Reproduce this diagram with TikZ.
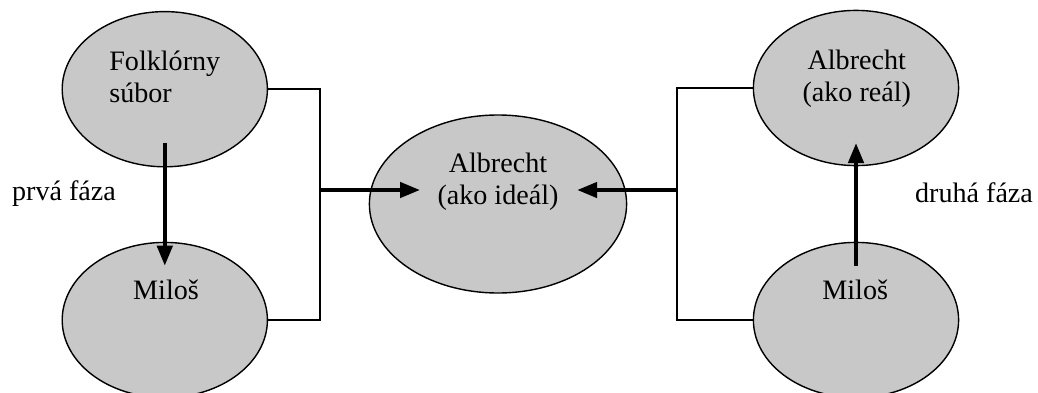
\documentclass[tikz,border=0pt]{standalone}
\usepackage{fontspec}
\setmainfont{Liberation Serif}
\usetikzlibrary{arrows.meta,shapes.geometric}
\definecolor{blobgray}{RGB}{200,200,200}

\begin{document}
\begin{tikzpicture}[
    blob/.style={ellipse, draw, line width=1pt, fill=blobgray, inner sep=0pt},
    fat/.style={line width=2.8pt, -{Triangle[length=0.5cm, width=0.38cm]}},
    txt/.style={font=\fontsize{20}{23}\selectfont, inner sep=0pt}
]
    \useasboundingbox (0,0) rectangle (25.95,9.8);

    % ellipses
    \node[blob, minimum width=5.13cm, minimum height=3.88cm] (folk) at (4.12,7.57) {};
    \node[blob, minimum width=5.13cm, minimum height=3.88cm] (milosL) at (4.12,1.8) {};
    \node[blob, minimum width=6.43cm, minimum height=4.45cm] (ideal) at (12.45,4.7) {};
    \node[blob, minimum width=5.13cm, minimum height=3.88cm] (real) at (21.4,7.6) {};
    \node[blob, minimum width=5.13cm, minimum height=3.88cm] (milosR) at (21.4,1.8) {};

    % texts
    \node[txt, align=left] (folkt) at (4.12,7.88) {Folklórny\\súbor};
    \node[txt] (milosLt) at (4.15,2.55) {Miloš};
    \node[txt, align=center] (idealt) at (12.45,5.25) {Albrecht\\(ako ideál)};
    \node[txt, align=center] (realt) at (21.42,7.83) {Albrecht\\(ako reál)};
    \node[txt] (milosRt) at (21.38,2.55) {Miloš};
    \node[txt] (prva) at (1.6,4.97) {prvá fáza};
    \node[txt] (druha) at (24.35,4.97) {druhá fáza};

    % brackets
    \coordinate (brL) at (8,5.05);
    \coordinate (brR) at (16.92,5.05);
    \coordinate (inL) at (10.5,5.05);
    \coordinate (inR) at (14.43,5.05);
    \draw[line width=1pt] (folk.east) -| (brL) |- (milosL.east);
    \draw[line width=1pt] (real.west) -| (brR) |- (milosR.west);
    \draw[fat] (brL) -- (inL);
    \draw[fat] (brR) -- (inR);

    % phases
    \draw[fat] ([yshift=0.62cm]folk.south) -- ([yshift=-0.6cm]milosL.north);
    \draw[fat] ([yshift=-0.6cm]milosR.north) -- ([yshift=0.58cm]real.south);
\end{tikzpicture}
\end{document}
